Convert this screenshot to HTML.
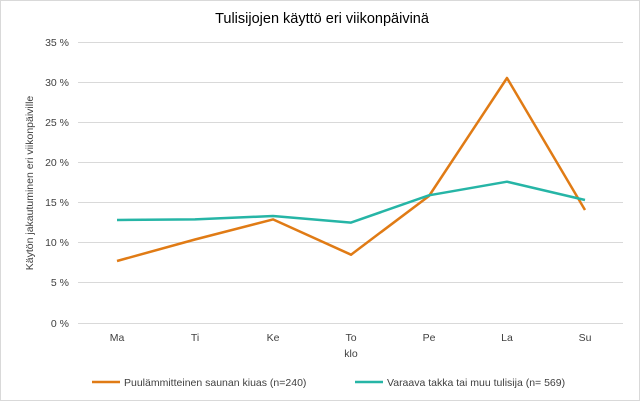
<!DOCTYPE html>
<html><head><meta charset="utf-8"><style>
html,body{margin:0;padding:0;background:#fff;}
svg{display:block;font-family:"Liberation Sans",Arial,sans-serif;}
</style></head><body>
<svg width="640" height="401" viewBox="0 0 640 401" xmlns="http://www.w3.org/2000/svg">
<rect x="0.5" y="0.5" width="639" height="400" fill="#fff" stroke="#d9d9d9"/>
<text x="322" y="23" font-size="14.5" text-anchor="middle" fill="#000">Tulisijojen käyttö eri viikonpäivinä</text>
<g stroke="#d9d9d9" stroke-width="1">
<line x1="78" x2="623" y1="42.5" y2="42.5"/>
<line x1="78" x2="623" y1="82.5" y2="82.5"/>
<line x1="78" x2="623" y1="122.5" y2="122.5"/>
<line x1="78" x2="623" y1="162.5" y2="162.5"/>
<line x1="78" x2="623" y1="202.5" y2="202.5"/>
<line x1="78" x2="623" y1="242.5" y2="242.5"/>
<line x1="78" x2="623" y1="282.5" y2="282.5"/>
<line x1="78" x2="623" y1="323.5" y2="323.5"/>
</g>
<g font-size="10.5" fill="#404040" text-anchor="end">
<text x="69" y="46">35 %</text><text x="69" y="86">30 %</text><text x="69" y="126">25 %</text>
<text x="69" y="166">20 %</text><text x="69" y="206">15 %</text><text x="69" y="246">10 %</text>
<text x="69" y="286">5 %</text><text x="69" y="327">0 %</text>
</g>
<g font-size="10.5" fill="#404040" text-anchor="middle">
<text x="117" y="341">Ma</text><text x="195" y="341">Ti</text><text x="273" y="341">Ke</text>
<text x="351" y="341">To</text><text x="429" y="341">Pe</text><text x="507" y="341">La</text><text x="585" y="341">Su</text>
<text x="351" y="357">klo</text>
</g>
<text transform="translate(33,183) rotate(-90)" font-size="10.5" fill="#404040" text-anchor="middle">Käytön jakautuminen eri viikonpäiville</text>
<polyline fill="none" stroke="#e07b15" stroke-width="2.5" stroke-linejoin="round" points="117,261 195,239.5 273,219.4 351,254.7 429,196 507,78 585,210"/>
<polyline fill="none" stroke="#26b5a6" stroke-width="2.5" stroke-linejoin="round" points="117,220 195,219.4 273,216 351,222.6 429,195.3 507,181.7 585,200"/>
<line x1="92" x2="120" y1="382" y2="382" stroke="#e07b15" stroke-width="2.5"/>
<text x="124" y="386" font-size="10.5" fill="#404040">Puulämmitteinen saunan kiuas (n=240)</text>
<line x1="355" x2="383" y1="382" y2="382" stroke="#26b5a6" stroke-width="2.5"/>
<text x="387" y="386" font-size="10.5" fill="#404040">Varaava takka tai muu tulisija (n= 569)</text>
</svg>
</body></html>
